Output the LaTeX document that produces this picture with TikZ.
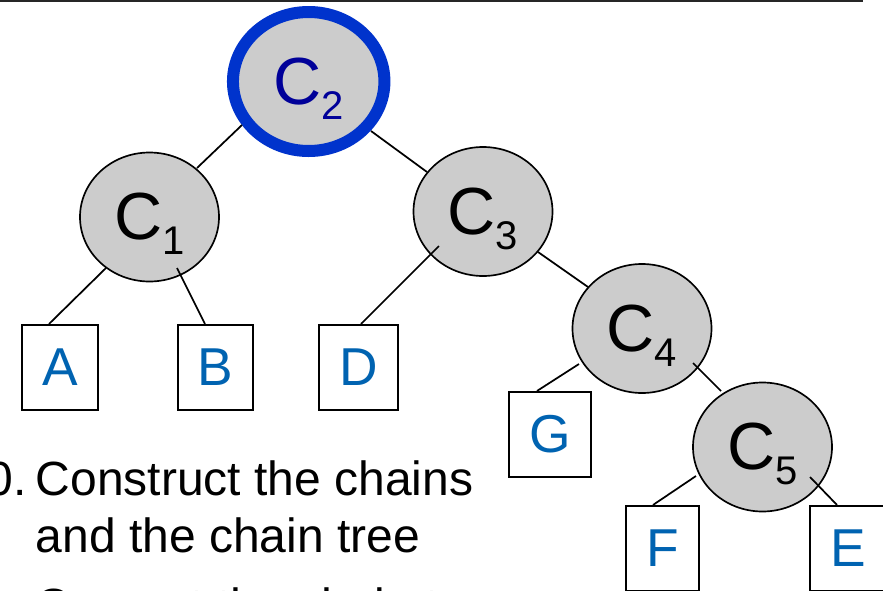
\documentclass[tikz,border=0pt]{standalone}
\usepackage{fontspec}
\setmainfont{Liberation Sans}
\usetikzlibrary{shapes.geometric,calc}
\definecolor{nodegray}{RGB}{204,204,204}
\definecolor{rootblue}{RGB}{0,51,204}
\definecolor{rootlabel}{RGB}{0,0,153}
\definecolor{leafblue}{RGB}{0,99,177}
\newcommand{\clab}[1]{C\smash{\raisebox{-11.25pt}{\fontsize{30}{36}\selectfont #1}}}
\begin{document}
\begin{tikzpicture}[x=0.75pt,y=-0.75pt,
  chain/.style={ellipse, draw=black, line width=1.25pt, fill=nodegray,
    minimum width=104.25pt, minimum height=96.75pt, inner sep=0pt,
    font=\fontsize{50}{60}\selectfont},
  root/.style={chain, draw=rootblue, line width=9pt,
    minimum width=113.6pt, minimum height=104.25pt, text=rootlabel},
  leaf/.style={rectangle, draw=black, line width=1.8pt, fill=white,
    minimum height=63.5pt, inner sep=0pt, text=leafblue,
    font=\fontsize{40}{48}\selectfont},
  conn/.style={draw=black, line width=1.3pt},
  bodytext/.style={anchor=base west, inner sep=0pt, font=\fontsize{36}{43}\selectfont}
]
\clip (0,0) rectangle (883,590);
\fill[white] (0,0) rectangle (883,590);
% top rule
\draw[line width=1.5pt, black!85] (0,1) -- (863,1);

% chain nodes
\node[root]  (C2) at (308.7,81.5) {\clab{2}};
\node[chain] (C1) at (149.5,217)  {\clab{1}};
\node[chain] (C3) at (483,211.5)  {\clab{3}};
\node[chain] (C4) at (642,328.5)  {\clab{4}};
\node[chain] (C5) at (762.5,447)  {\clab{5}};

% leaves
\node[leaf, minimum width=57pt]    (A) at (60,367.5)    {A};
\node[leaf, minimum width=56.25pt] (B) at (215.5,367.5) {B};
\node[leaf, minimum width=59.25pt] (D) at (358.5,367.5) {D};
\node[leaf, minimum width=61.5pt]  (G) at (550,434.5)   {G};
\node[leaf, minimum width=54.75pt] (F) at (662.5,548.5) {F};
\node[leaf, minimum width=57pt]    (E) at (848,548.5)   {E};

% connectors
\draw[conn] ($(C2)+(-66.7,43.5)$) -- ($(C1)+(47.5,-49)$);
\draw[conn] ($(C2)+(62.3,49.5)$)  -- ($(C3)+(-56,-39.5)$);
\draw[conn] ($(C1)+(-43.5,51)$)   -- ($(A.north)+(-11,0)$);
\draw[conn] ($(C1)+(27.5,51)$)    -- ($(B.north)+(-10.5,0)$);
\draw[conn] ($(C3)+(-44,34.5)$)   -- ($(D.north)+(2.5,0)$);
\draw[conn] ($(C3)+(55,40.5)$)    -- ($(C4)+(-54,-41.5)$);
\draw[conn] ($(C4)+(-63,35.5)$)   -- ($(G.north)+(-13,0)$);
\draw[conn] ($(C4)+(51,34.5)$)    -- ($(C5)+(-41.5,-56)$);
\draw[conn] ($(C5)+(-66.5,29)$)   -- ($(F.north)+(-9.5,0)$);
\draw[conn] ($(C5)+(47.5,30)$)    -- ($(E.north)+(-11,0)$);

% text
\node[bodytext, anchor=base east] (num) at (27,495) {10.};
\node[bodytext] (l1) at (35.5,495) {Construct the chains};
\node[bodytext] (l2) at (35.5,552) {and the chain tree};
\node[bodytext] (l3) at (35.5,622) {Convert the chain tree};
\end{tikzpicture}
\end{document}
